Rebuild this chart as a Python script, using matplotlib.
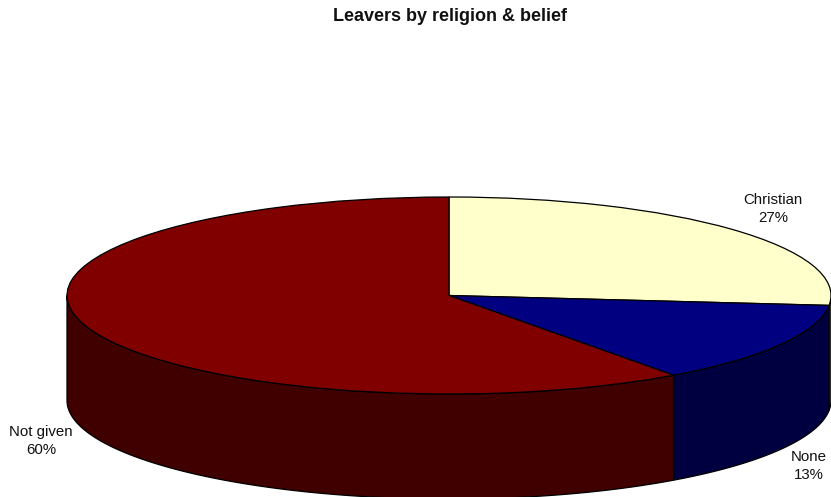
import numpy as np
import matplotlib
matplotlib.use("Agg")
import matplotlib.pyplot as plt

plt.rcParams['font.family'] = ['Liberation Sans', 'DejaVu Sans']

categories = ["Christian", "None", "Not given"]
values = [26.6, 13.4, 60.0]
top_colors = ["#FFFFCC", "#000080", "#800000"]
side_colors = ["#808066", "#000040", "#400000"]
label_px = [(773, 209), (809, 466), (41, 441)]

W, H = 831, 497
CX, CY, RX, RY, DEPTH = 449.0, 295.5, 382.0, 98.5, 105.0

fig = plt.figure(figsize=(W / 100, H / 100), dpi=100, facecolor="white")
ax = fig.add_axes([0, 0, 1, 1])

ax.pie(values, colors=top_colors, startangle=90, counterclock=False, radius=1,
       wedgeprops=dict(edgecolor="black", linewidth=0.9, zorder=3))

# Side walls: only the part of each slice's rim that faces the viewer
depth = DEPTH / RY
fractions = np.array(values, dtype=float) / np.sum(values)
bounds = 90 - 360 * np.concatenate([[0], np.cumsum(fractions)])
for start, end, col in zip(bounds[:-1], bounds[1:], side_colors):
    hi = min(start, 0)
    lo = max(end, -180)
    if hi <= lo:
        continue
    th = np.radians(np.linspace(hi, lo, 200))
    x = np.cos(th)
    y = np.sin(th)
    px = np.concatenate([x, x[::-1]])
    py = np.concatenate([y, y[::-1] - depth])
    ax.fill(px, py, facecolor=col, edgecolor="black", linewidth=0.9, zorder=2)

ax.set_aspect("auto")
ax.set_xlim((0 - CX) / RX, (W - CX) / RX)
ax.set_ylim((CY - H) / RY, CY / RY)
ax.axis("off")

pct = [f"{v:.0f}%" for v in values]
for name, p, (lx, ly) in zip(categories, pct, label_px):
    ax.text((lx - CX) / RX, (CY - ly) / RY, f"{name}\n{p}", ha="center", va="center",
            fontsize=10.8, color="#111111", linespacing=1.4, zorder=5)

ax.text((450 - CX) / RX, (CY - 16.5) / RY, "Leavers by religion & belief", ha="center",
        va="center", fontsize=13, fontweight="bold", color="#111111", zorder=5)

fig.savefig("out.png", dpi=100, facecolor="white")
